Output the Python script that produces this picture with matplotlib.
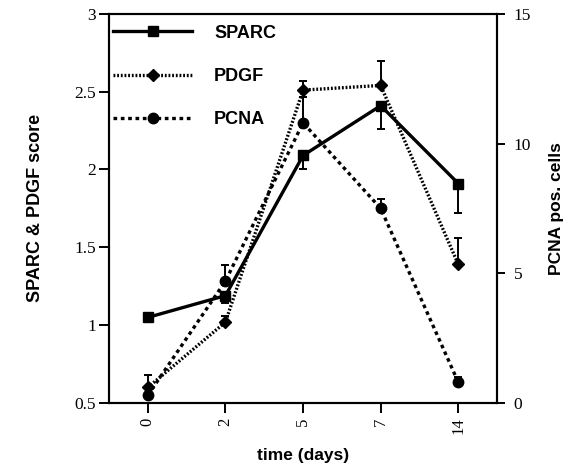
import matplotlib
matplotlib.use("Agg")
import matplotlib.pyplot as plt
from matplotlib.lines import Line2D
import numpy as np

days = ["0", "2", "5", "7", "14"]
sparc = [1.05, 1.19, 2.09, 2.41, 1.91]
sparc_err_lo = [0.0, 0.05, 0.09, 0.15, 0.19]
sparc_err_hi = [0.0, 0.0, 0.0, 0.0, 0.0]
pdgf = [0.60, 1.02, 2.51, 2.54, 1.39]
pdgf_err_lo = [0.0, 0.0, 0.0, 0.0, 0.0]
pdgf_err_hi = [0.08, 0.04, 0.06, 0.16, 0.17]
pcna = [0.3, 4.7, 10.8, 7.5, 0.8]
pcna_err_lo = [0.0, 0.0, 0.0, 0.0, 0.0]
pcna_err_hi = [0.0, 0.6, 1.0, 0.35, 0.2]

serif = "Liberation Serif"
sans = "Liberation Sans"
LW = 2.4
dot = (0, (0.55, 0.55))
dash = (0, (1.1, 1.1))

fig = plt.figure(figsize=(5.74, 4.65), dpi=100)
ax = fig.add_axes([0.19, 0.1333, 0.676, 0.837])
ax2 = ax.twinx()

x = np.arange(len(days))
ekw = dict(capsize=3, elinewidth=1.4, capthick=1.4, zorder=3, color="black")
ax.errorbar(x, sparc, yerr=[sparc_err_lo, sparc_err_hi], lw=LW,
            marker="s", ms=7, **ekw)
ax.errorbar(x, pdgf, yerr=[pdgf_err_lo, pdgf_err_hi], lw=LW,
            linestyle=dot, marker="D", ms=6, **ekw)
ax2.errorbar(x, pcna, yerr=[pcna_err_lo, pcna_err_hi], lw=LW,
             linestyle=dash, marker="o", ms=7.5, **ekw)

ax.set_xlim(-0.5, 4.5)
ax.set_ylim(0.5, 3)
ax2.set_ylim(0, 15)
ax.set_xticks(x)
ax.set_xticklabels(days, rotation=90, fontfamily=serif, fontsize=12)
ax.set_yticks([0.5, 1, 1.5, 2, 2.5, 3])
ax.set_yticklabels(["0.5", "1", "1.5", "2", "2.5", "3"], fontfamily=serif, fontsize=12.5)
ax2.set_yticks([0, 5, 10, 15])
ax2.set_yticklabels(["0", "5", "10", "15"], fontfamily=serif, fontsize=12.5)

ax.tick_params(axis="y", direction="out", length=7.5, width=1.4, pad=2)
ax.tick_params(axis="x", direction="out", length=7.5, width=1.4, pad=3)
ax2.tick_params(axis="y", direction="out", length=6, width=1.4, pad=6)
for a in (ax, ax2):
    for s in a.spines.values():
        s.set_linewidth(1.5)

ax.set_ylabel("SPARC & PDGF score", fontfamily=sans, fontweight="bold", fontsize=13, labelpad=22)
ax2.set_ylabel("PCNA pos. cells", fontfamily=sans, fontweight="bold", fontsize=12.5, labelpad=13)
ax.set_xlabel("time (days)", fontfamily=sans, fontweight="bold", fontsize=12.5, labelpad=10)

handles = [
    Line2D([], [], color="black", lw=LW, marker="s", ms=7),
    Line2D([], [], color="black", lw=LW, linestyle=dot, marker="D", ms=6),
    Line2D([], [], color="black", lw=LW, linestyle=dash, marker="o", ms=7.5),
]
leg = ax.legend(handles, ["SPARC", "PDGF", "PCNA"], loc="upper left",
                bbox_to_anchor=(0.01, 0.972), frameon=False, handlelength=4.4,
                handletextpad=1.2, labelspacing=1.45, borderaxespad=0.0,
                borderpad=0.0,
                prop={"family": sans, "weight": "bold", "size": 13})

fig.savefig("out.png", dpi=100)
